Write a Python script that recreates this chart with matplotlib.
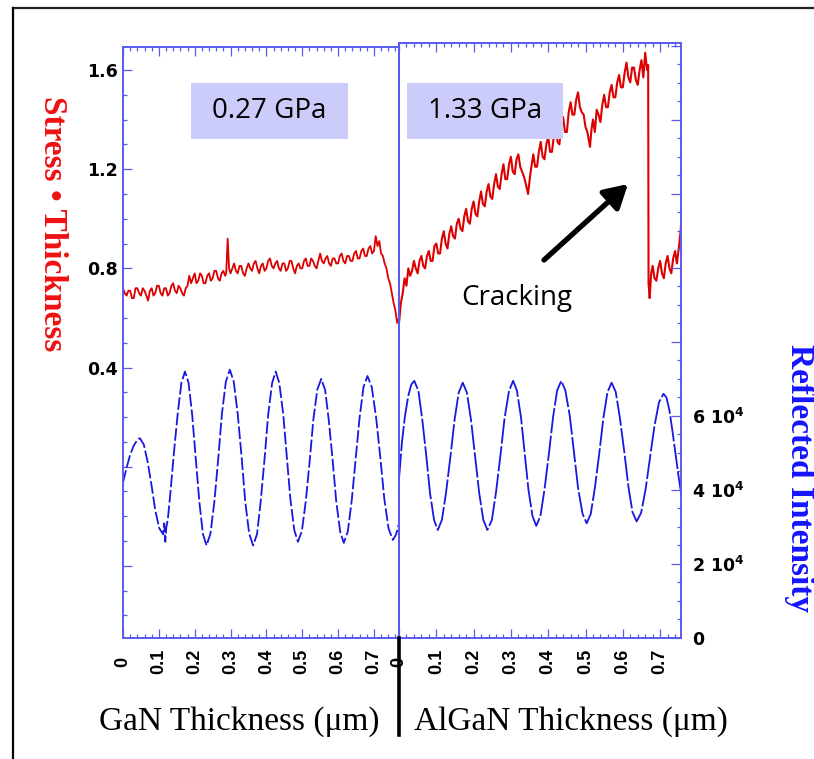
"""Stress-thickness and reflected intensity during GaN / AlGaN growth."""

import matplotlib
matplotlib.use("Agg")
import matplotlib.pyplot as plt
from matplotlib.ticker import MultipleLocator, FixedLocator, FuncFormatter
from matplotlib.lines import Line2D
from matplotlib.patches import Rectangle, FancyArrowPatch

# ---- data ----------------------------------------------------------------
# stress-thickness, GaN layer (x in um)
gan_stress = [
    (0.000, 0.72), (0.005, 0.70), (0.010, 0.69), (0.015, 0.71), (0.020, 0.71),
    (0.025, 0.68), (0.030, 0.68), (0.035, 0.72), (0.040, 0.72), (0.045, 0.70),
    (0.050, 0.69), (0.055, 0.72), (0.060, 0.71), (0.065, 0.69), (0.070, 0.67),
    (0.075, 0.71), (0.080, 0.72), (0.085, 0.69), (0.090, 0.70), (0.095, 0.73),
    (0.100, 0.73), (0.105, 0.70), (0.110, 0.69), (0.115, 0.72), (0.120, 0.72),
    (0.125, 0.69), (0.130, 0.70), (0.135, 0.73), (0.140, 0.74), (0.145, 0.71),
    (0.150, 0.70), (0.155, 0.73), (0.160, 0.72), (0.165, 0.70), (0.170, 0.69),
    (0.175, 0.72), (0.180, 0.73), (0.185, 0.77), (0.190, 0.74), (0.195, 0.76),
    (0.200, 0.78), (0.205, 0.74), (0.210, 0.75), (0.215, 0.78), (0.220, 0.77),
    (0.225, 0.74), (0.230, 0.74), (0.235, 0.77), (0.240, 0.78), (0.245, 0.75),
    (0.250, 0.76), (0.255, 0.79), (0.260, 0.79), (0.265, 0.76), (0.270, 0.75),
    (0.275, 0.78), (0.280, 0.79), (0.285, 0.77), (0.288, 0.78), (0.292, 0.92),
    (0.296, 0.80), (0.300, 0.78), (0.305, 0.80), (0.310, 0.82), (0.315, 0.79),
    (0.320, 0.78), (0.325, 0.81), (0.330, 0.81), (0.335, 0.78), (0.340, 0.77),
    (0.345, 0.80), (0.350, 0.82), (0.355, 0.80), (0.360, 0.79), (0.365, 0.82),
    (0.370, 0.83), (0.375, 0.80), (0.380, 0.78), (0.385, 0.81), (0.390, 0.82),
    (0.395, 0.79), (0.400, 0.80), (0.405, 0.83), (0.410, 0.84), (0.415, 0.81),
    (0.420, 0.80), (0.425, 0.82), (0.430, 0.83), (0.435, 0.80), (0.440, 0.79),
    (0.445, 0.82), (0.450, 0.82), (0.455, 0.79), (0.460, 0.80), (0.465, 0.83),
    (0.470, 0.83), (0.475, 0.80), (0.480, 0.78), (0.485, 0.81), (0.490, 0.82),
    (0.495, 0.80), (0.500, 0.80), (0.505, 0.83), (0.510, 0.84), (0.515, 0.81),
    (0.520, 0.81), (0.525, 0.84), (0.530, 0.83), (0.535, 0.81), (0.540, 0.80),
    (0.545, 0.83), (0.550, 0.86), (0.555, 0.83), (0.560, 0.82), (0.565, 0.84),
    (0.570, 0.85), (0.575, 0.82), (0.580, 0.81), (0.585, 0.84), (0.590, 0.84),
    (0.595, 0.82), (0.600, 0.82), (0.605, 0.85), (0.610, 0.86), (0.615, 0.83),
    (0.620, 0.82), (0.625, 0.85), (0.630, 0.85), (0.635, 0.83), (0.640, 0.83),
    (0.645, 0.86), (0.650, 0.87), (0.655, 0.84), (0.660, 0.84), (0.665, 0.87),
    (0.670, 0.88), (0.675, 0.85), (0.680, 0.85), (0.685, 0.88), (0.690, 0.89),
    (0.695, 0.86), (0.700, 0.87), (0.705, 0.93), (0.710, 0.89), (0.715, 0.91),
    (0.720, 0.86), (0.725, 0.85), (0.730, 0.82), (0.735, 0.80), (0.740, 0.76),
    (0.745, 0.74), (0.750, 0.70), (0.755, 0.66), (0.760, 0.63), (0.765, 0.58),
    (0.770, 0.60),
]

# stress-thickness, AlGaN layer
algan_stress = [
    (0.000, 0.58), (0.005, 0.66), (0.010, 0.70), (0.015, 0.76), (0.020, 0.73),
    (0.025, 0.80), (0.030, 0.77), (0.035, 0.79), (0.040, 0.83), (0.045, 0.80),
    (0.050, 0.78), (0.055, 0.83), (0.060, 0.85), (0.065, 0.81), (0.070, 0.80),
    (0.075, 0.85), (0.080, 0.87), (0.085, 0.83), (0.090, 0.83), (0.095, 0.89),
    (0.100, 0.90), (0.105, 0.86), (0.110, 0.86), (0.115, 0.92), (0.120, 0.95),
    (0.125, 0.90), (0.130, 0.88), (0.135, 0.94), (0.140, 0.97), (0.145, 0.93),
    (0.150, 0.92), (0.155, 0.98), (0.160, 1.00), (0.165, 0.96), (0.170, 0.95),
    (0.175, 1.01), (0.180, 1.04), (0.185, 0.99), (0.190, 0.98), (0.195, 1.04),
    (0.200, 1.07), (0.205, 1.02), (0.210, 1.01), (0.215, 1.07), (0.220, 1.11),
    (0.225, 1.06), (0.230, 1.05), (0.235, 1.11), (0.240, 1.14), (0.245, 1.09),
    (0.250, 1.08), (0.255, 1.14), (0.260, 1.18), (0.265, 1.13), (0.270, 1.12),
    (0.275, 1.18), (0.280, 1.22), (0.285, 1.16), (0.290, 1.16), (0.295, 1.22),
    (0.300, 1.25), (0.305, 1.19), (0.310, 1.18), (0.315, 1.24), (0.320, 1.26),
    (0.325, 1.21), (0.330, 1.19), (0.335, 1.17), (0.340, 1.14), (0.346, 1.10),
    (0.352, 1.18), (0.356, 1.22), (0.360, 1.26), (0.365, 1.21), (0.370, 1.21),
    (0.375, 1.27), (0.380, 1.31), (0.385, 1.25), (0.390, 1.24), (0.395, 1.30),
    (0.400, 1.33), (0.405, 1.27), (0.410, 1.27), (0.415, 1.33), (0.420, 1.37),
    (0.425, 1.31), (0.430, 1.30), (0.435, 1.37), (0.440, 1.41), (0.445, 1.35),
    (0.450, 1.35), (0.455, 1.43), (0.460, 1.47), (0.465, 1.42), (0.470, 1.42),
    (0.475, 1.48), (0.480, 1.51), (0.485, 1.45), (0.490, 1.43), (0.495, 1.42),
    (0.500, 1.37), (0.505, 1.35), (0.512, 1.29), (0.516, 1.36), (0.520, 1.40),
    (0.525, 1.35), (0.530, 1.44), (0.535, 1.42), (0.540, 1.39), (0.545, 1.46),
    (0.550, 1.50), (0.555, 1.45), (0.560, 1.45), (0.565, 1.51), (0.570, 1.54),
    (0.575, 1.49), (0.580, 1.49), (0.585, 1.55), (0.590, 1.58), (0.595, 1.53),
    (0.600, 1.53), (0.605, 1.59), (0.610, 1.63), (0.615, 1.57), (0.620, 1.55),
    (0.625, 1.61), (0.630, 1.61), (0.635, 1.56), (0.640, 1.54), (0.645, 1.60),
    (0.650, 1.64), (0.655, 1.57), (0.660, 1.67), (0.665, 1.60), (0.668, 1.62),
    (0.669, 0.74), (0.672, 0.68), (0.676, 0.78), (0.680, 0.81), (0.685, 0.76),
    (0.690, 0.75), (0.695, 0.80), (0.700, 0.83), (0.705, 0.78), (0.710, 0.76),
    (0.715, 0.82), (0.720, 0.85), (0.725, 0.80), (0.730, 0.78), (0.735, 0.84),
    (0.740, 0.87), (0.745, 0.82), (0.750, 0.88), (0.755, 0.95), (0.760, 1.07),
]

# reflected intensity (units of 1e4), GaN layer
gan_refl = [
    (0.000, 4.20), (0.010, 4.60), (0.020, 4.95), (0.030, 5.20), (0.040, 5.35),
    (0.047, 5.40), (0.058, 5.23), (0.069, 4.75), (0.080, 4.10), (0.090, 3.45),
    (0.101, 2.97), (0.112, 2.80), (0.115, 3.10), (0.118, 2.60), (0.121, 3.00),
    (0.125, 3.20), (0.132, 3.90), (0.142, 5.00), (0.153, 6.10), (0.163, 6.90),
    (0.173, 7.20), (0.183, 6.89), (0.193, 6.03), (0.203, 4.85), (0.213, 3.68),
    (0.223, 2.81), (0.233, 2.50), (0.244, 2.82), (0.255, 3.69), (0.266, 4.88),
    (0.276, 6.06), (0.287, 6.93), (0.298, 7.25), (0.309, 6.93), (0.320, 6.06),
    (0.331, 4.88), (0.341, 3.69), (0.352, 2.82), (0.363, 2.50), (0.374, 2.81),
    (0.384, 3.68), (0.395, 4.85), (0.405, 6.03), (0.416, 6.89), (0.426, 7.20),
    (0.436, 6.89), (0.447, 6.05), (0.457, 4.90), (0.467, 3.75), (0.478, 2.91),
    (0.488, 2.60), (0.499, 2.89), (0.510, 3.70), (0.521, 4.80), (0.531, 5.90),
    (0.542, 6.71), (0.553, 7.00), (0.564, 6.70), (0.574, 5.89), (0.585, 4.79),
    (0.595, 3.68), (0.606, 2.87), (0.616, 2.57), (0.627, 2.87), (0.638, 3.70),
    (0.649, 4.83), (0.660, 5.95), (0.671, 6.78), (0.682, 7.08), (0.694, 6.78),
    (0.706, 5.97), (0.718, 4.87), (0.729, 3.76), (0.741, 2.95), (0.753, 2.65),
    (0.762, 2.80), (0.770, 3.10),
]

# reflected intensity (units of 1e4), AlGaN layer
algan_refl = [
    (0.000, 4.30), (0.008, 5.30), (0.016, 6.00), (0.025, 6.55), (0.033, 6.85),
    (0.041, 6.95), (0.052, 6.68), (0.062, 5.94), (0.073, 4.94), (0.083, 3.93),
    (0.094, 3.19), (0.104, 2.92), (0.115, 3.19), (0.126, 3.92), (0.138, 4.91),
    (0.149, 5.90), (0.160, 6.63), (0.171, 6.90), (0.182, 6.63), (0.193, 5.90),
    (0.204, 4.91), (0.215, 3.92), (0.226, 3.19), (0.237, 2.92), (0.249, 3.19),
    (0.260, 3.93), (0.272, 4.94), (0.283, 5.94), (0.295, 6.68), (0.306, 6.95),
    (0.316, 6.69), (0.327, 5.97), (0.337, 4.99), (0.347, 4.01), (0.358, 3.29),
    (0.368, 3.03), (0.379, 3.29), (0.390, 4.01), (0.402, 4.99), (0.413, 5.97),
    (0.424, 6.69), (0.435, 6.95), (0.446, 6.69), (0.458, 5.99), (0.469, 5.03),
    (0.480, 4.06), (0.492, 3.36), (0.503, 3.10), (0.514, 3.35), (0.525, 4.05),
    (0.537, 5.00), (0.548, 5.95), (0.559, 6.65), (0.570, 6.90), (0.581, 6.65),
    (0.592, 5.96), (0.604, 5.03), (0.615, 4.09), (0.626, 3.40), (0.637, 3.15),
    (0.649, 3.38), (0.661, 4.01), (0.673, 4.88), (0.685, 5.74), (0.697, 6.37),
    (0.709, 6.60), (0.717, 6.50), (0.725, 6.15), (0.733, 5.60), (0.741, 5.00),
    (0.749, 4.40), (0.758, 3.80),
]

stress_ticks = [-0.4, 0.0, 0.4, 0.8, 1.2, 1.6]
stress_labelled = [0.4, 0.8, 1.2, 1.6]
refl_labelled = [0, 2, 4, 6]
x_titles = ["GaN Thickness (\u03bcm)", "AlGaN Thickness (\u03bcm)"]
box_texts = ["0.27 GPa", "1.33 GPa"]

# ---- styling ---------------------------------------------------------------
plt.rcParams["font.family"] = ["DejaVu Sans"]
plt.rcParams["font.weight"] = "bold"
plt.rcParams["mathtext.default"] = "regular"

RED = "#dd0000"
BLUE = "#1818e0"
SPINE = "#5a5af0"
W, H = 814, 759


def fx(px):
    return px / W


def fy(py):
    return 1 - py / H


def split(pairs):
    return [p[0] for p in pairs], [p[1] for p in pairs]


fig = plt.figure(figsize=(W / 100, H / 100), dpi=100)

axL = fig.add_axes([fx(123), fy(638), fx(399) - fx(123), fy(47) - fy(638)])
axR = fig.add_axes([fx(399), fy(638), fx(681) - fx(399), fy(43) - fy(638)])
axLb = axL.twinx()
axRb = axR.twinx()

x, y = split(gan_stress)
axL.plot(x, y, color=RED, lw=1.3)
x, y = split(algan_stress)
axR.plot(x, y, color=RED, lw=1.5)
x, y = split(gan_refl)
axLb.plot(x, y, color=BLUE, lw=1.3, dashes=(7, 1.6))
x, y = split(algan_refl)
axRb.plot(x, y, color=BLUE, lw=1.3, dashes=(14, 1.4))

axL.set_xlim(0, 0.770)
axR.set_xlim(0, 0.756)
axL.set_ylim(-0.691, 1.693)
axR.set_ylim(-0.691, 1.709)
axLb.set_ylim(0, 15.97)
axRb.set_ylim(0, 16.08)

stress_fmt = FuncFormatter(
    lambda v, p: f"{v:.1f}" if any(abs(v - s) < 1e-6 for s in stress_labelled) else "")
refl_fmt = FuncFormatter(
    lambda v, p: ("0" if abs(v) < 1e-6 else f"{v:.0f} 10$^{{4}}$")
    if any(abs(v - s) < 1e-6 for s in refl_labelled) else "")
x_fmt = FuncFormatter(lambda v, p: "0" if abs(v) < 1e-6 else f"{v:.1f}")

for ax in (axL, axR, axLb, axRb):
    for s in ax.spines.values():
        s.set_color(SPINE)
        s.set_linewidth(1.2)
    ax.patch.set_visible(False)

for ax in (axL, axR):
    ax.xaxis.set_major_locator(MultipleLocator(0.1))
    ax.xaxis.set_minor_locator(MultipleLocator(0.02))
    ax.xaxis.set_major_formatter(x_fmt)
    ax.tick_params(axis="x", which="both", direction="in", top=True, bottom=True,
                   color=SPINE, labelcolor="black", labelsize=13,
                   labelrotation=90, pad=17)
    ax.tick_params(axis="x", which="major", length=6.5, width=0.9)
    ax.tick_params(axis="x", which="minor", length=3, width=0.9)
    ax.get_xticklabels()
    for t in ax.xaxis.get_major_ticks():
        t.label1.set_va("center")
        t.label1.set_family("Liberation Sans")

axL.yaxis.set_major_locator(FixedLocator(stress_ticks))
axL.yaxis.set_minor_locator(MultipleLocator(0.1))
axL.yaxis.set_major_formatter(stress_fmt)
axL.tick_params(axis="y", which="both", direction="in", left=True, right=False,
                color=SPINE, labelcolor="black", labelsize=12.5, pad=4)
axL.tick_params(axis="y", which="major", length=6.5, width=0.9)
axL.tick_params(axis="y", which="minor", length=3, width=0.9)

axR.tick_params(axis="y", which="both", left=False, right=False,
                labelleft=False, labelright=False)
axLb.tick_params(axis="y", which="both", left=False, right=False,
                 labelleft=False, labelright=False)

axRb.yaxis.set_major_locator(MultipleLocator(2))
axRb.yaxis.set_minor_locator(MultipleLocator(0.5))
axRb.yaxis.set_major_formatter(refl_fmt)
axRb.tick_params(axis="y", which="both", direction="in", right=True, left=False,
                 color=SPINE, labelcolor="black", labelsize=12.5, pad=8)
axRb.tick_params(axis="y", which="major", length=7, width=0.9)
axRb.tick_params(axis="y", which="minor", length=3, width=0.9)

# ---- axis titles -----------------------------------------------------------
fig.text(fx(52), fy(224), "Stress \u2022 Thickness", rotation=270, color="#ee1111",
         fontsize=24, fontweight="bold", family="Liberation Serif",
         ha="center", va="center")
fig.text(fx(800), fy(478), "Reflected Intensity", rotation=270, color="#1414ff",
         fontsize=24, fontweight="bold", family="Liberation Serif",
         ha="center", va="center")
fig.text(fx(239), fy(722), x_titles[0], fontsize=24, fontweight="normal",
         family="Liberation Serif", ha="center", va="center")
fig.text(fx(571), fy(722), x_titles[1], fontsize=24, fontweight="normal",
         family="Liberation Serif", ha="center", va="center")

# ---- annotations -----------------------------------------------------------
for (x0, x1), label in zip([(191, 348), (407, 563)], box_texts):
    fig.add_artist(Rectangle((fx(x0), fy(139)), fx(x1) - fx(x0), fy(83) - fy(139),
                             transform=fig.transFigure, facecolor="#ccccfa",
                             edgecolor="none"))
    fig.text(fx((x0 + x1) / 2), fy(111), label, fontsize=20, fontweight="normal",
             family="Open Sans", ha="center", va="center")

fig.text(fx(517), fy(298), "Cracking", fontsize=20, fontweight="normal",
         family="Open Sans", ha="center", va="center")
fig.add_artist(FancyArrowPatch((fx(544), fy(260)), (fx(628), fy(184)),
                               transform=fig.transFigure, color="black",
                               arrowstyle="-|>,head_length=0.7,head_width=0.4",
                               mutation_scale=20, lw=3.8, shrinkA=0, shrinkB=0))

# separator below the panels, slide frame
fig.add_artist(Line2D([fx(399), fx(399)], [fy(638), fy(735)], color="black",
                      lw=2.6, transform=fig.transFigure))
fig.add_artist(Line2D([fx(13), fx(814)], [fy(8), fy(8)], color="#222222",
                      lw=1.6, transform=fig.transFigure))
fig.add_artist(Line2D([fx(13), fx(13)], [fy(8), fy(759)], color="black",
                      lw=1.6, transform=fig.transFigure))

fig.savefig("out.png", dpi=100)
